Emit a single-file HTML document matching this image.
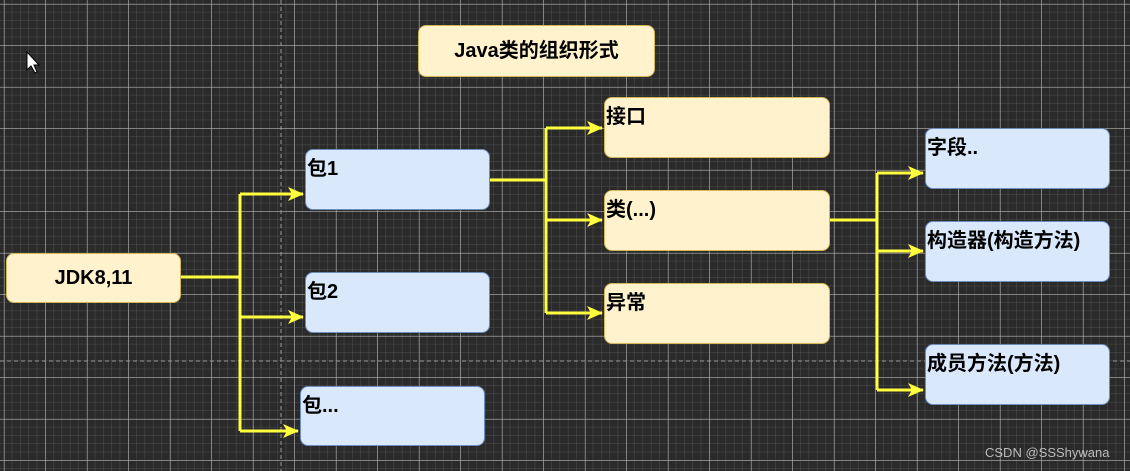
<!DOCTYPE html>
<html><head><meta charset="utf-8"><style>
body{margin:0;width:1130px;height:471px;overflow:hidden;background:#2a2a2a;font-family:"Liberation Sans","Noto Sans CJK SC",sans-serif}
svg{position:absolute;left:0;top:0}
.b{position:absolute;box-sizing:border-box;border-radius:8px;font-weight:bold;font-size:20px;color:#000;line-height:1}
.y{background:#fff2cc;border:1.5px solid #d6b656}
.bl{background:#dae8fc;border:1.5px solid #6c8ebf}
.tl{padding:9px 0 0 1px}
.c{display:flex;align-items:center;justify-content:center}
</style></head><body>
<svg width="1130" height="471">
<defs>
<pattern id="mn" width="8.3" height="8.3" patternUnits="userSpaceOnUse" x="4" y="4"><path d="M8.3 0V8.3M0 8.3H8.3" stroke="#4e4e4e" stroke-width="1" fill="none"/></pattern>
<pattern id="mj" width="41.5" height="41.5" patternUnits="userSpaceOnUse" x="4.5" y="4.5"><path d="M41.5 0V41.5M0 41.5H41.5" stroke="#b8b8b8" stroke-width="1" fill="none"/></pattern>
<marker id="a" markerWidth="16" markerHeight="14" refX="15" refY="7" orient="auto" markerUnits="userSpaceOnUse"><path d="M0 0L16 7L0 14L4 7z" fill="#ffff40"/></marker>
</defs>
<rect width="1130" height="471" fill="url(#mn)"/>
<rect width="1130" height="471" fill="url(#mj)"/>
<line x1="281" y1="0" x2="281" y2="471" stroke="#999" stroke-dasharray="4 3"/>
<line x1="0" y1="361" x2="1130" y2="361" stroke="#999" stroke-dasharray="4 3"/>
<path d="M27 52L27 70L31 66L35 73L37 72L34 65L39 65Z" fill="#fff" stroke="#000" stroke-width="1"/>
<g stroke="#ffff40" stroke-width="3" fill="none">
<path d="M181 277H240"/><path d="M240 194V431"/>
<path d="M240 194H303" marker-end="url(#a)"/><path d="M240 317H303" marker-end="url(#a)"/><path d="M240 431H298" marker-end="url(#a)"/>
<path d="M490 180H546"/><path d="M546 128V313"/>
<path d="M546 128H602" marker-end="url(#a)"/><path d="M546 220H602" marker-end="url(#a)"/><path d="M546 313H602" marker-end="url(#a)"/>
<path d="M830 220H877"/><path d="M877 173V390"/>
<path d="M877 173H923" marker-end="url(#a)"/><path d="M877 251H923" marker-end="url(#a)"/><path d="M877 390H923" marker-end="url(#a)"/>
</g>
<text x="985" y="457" font-family="Liberation Sans" font-size="13" fill="#bbb">CSDN @SSShywana</text>
</svg>
<div class="b y c" style="left:418px;top:25px;width:237px;height:52px">Java类的组织形式</div>
<div class="b y c" style="left:6px;top:253px;width:175px;height:50px">JDK8,11</div>
<div class="b bl tl" style="left:305px;top:149px;width:185px;height:61px">包1</div>
<div class="b bl tl" style="left:305px;top:272px;width:185px;height:61px">包2</div>
<div class="b bl tl" style="left:300px;top:386px;width:185px;height:60px">包...</div>
<div class="b y tl" style="left:604px;top:97px;width:226px;height:61px">接口</div>
<div class="b y tl" style="left:604px;top:190px;width:226px;height:61px">类(...)</div>
<div class="b y tl" style="left:604px;top:283px;width:226px;height:61px">异常</div>
<div class="b bl tl" style="left:925px;top:128px;width:185px;height:61px">字段..</div>
<div class="b bl tl" style="left:925px;top:221px;width:185px;height:61px;white-space:nowrap">构造器(构造方法)</div>
<div class="b bl tl" style="left:925px;top:344px;width:185px;height:61px">成员方法(方法)</div>
</body></html>
